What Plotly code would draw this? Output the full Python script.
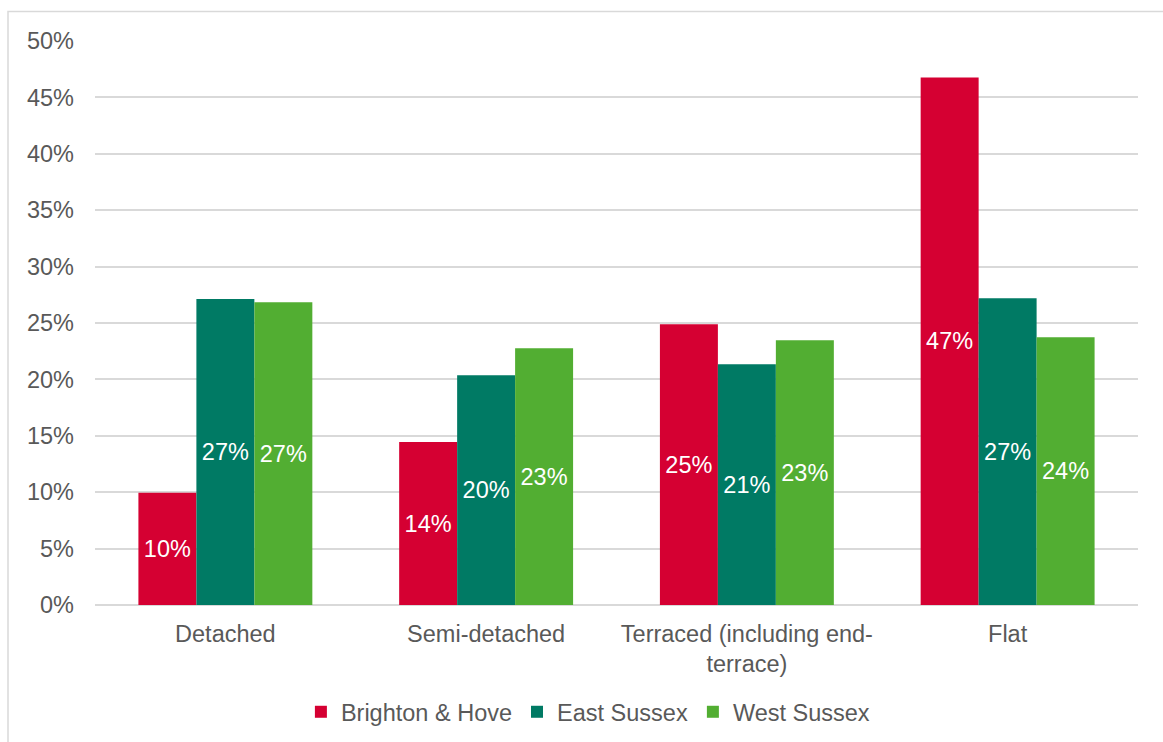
import plotly.graph_objects as go

categories = ["Detached", "Semi-detached", "Terraced (including end-<br>terrace)", "Flat"]
series_names = ["Brighton & Hove", "East Sussex", "West Sussex"]
brighton = [9.95, 14.44, 24.88, 46.77]
east_sussex = [27.13, 20.37, 21.34, 27.20]
west_sussex = [26.84, 22.76, 23.46, 23.73]
colors = ["#D50032", "#007A64", "#52AE32"]
y_ticks = [0, 5, 10, 15, 20, 25, 30, 35, 40, 45, 50]
y_tick_labels = [f"{v}%" for v in y_ticks]

FONT = "Liberation Sans, Arial, sans-serif"
FS = 23.5
GREY = "#595959"

fig = go.Figure()
for name, vals, col in zip(series_names, [brighton, east_sussex, west_sussex], colors):
    fig.add_trace(go.Bar(
        name=name,
        x=categories,
        y=vals,
        marker=dict(color=col, line=dict(width=0)),
        text=[f"{round(v):d}%" for v in vals],
        textposition="inside",
        insidetextanchor="middle",
        textangle=0,
        textfont=dict(family=FONT, size=FS, color="white"),
        hoverinfo="skip",
    ))

fig.update_layout(
    width=1163, height=742,
    barmode="group",
    bargap=0.333,
    bargroupgap=0,
    paper_bgcolor="white",
    plot_bgcolor="white",
    margin=dict(l=95, r=25, t=40.5, b=137, autoexpand=False),
    font=dict(family=FONT, size=FS, color=GREY),
    uniformtext=dict(mode=False),
    showlegend=True,
    legend=dict(
        orientation="h",
        x=0.5055, xanchor="center", xref="container",
        y=30 / 742, yanchor="middle", yref="container",
        font=dict(family=FONT, size=FS, color=GREY),
        itemwidth=30,
        tracegroupgap=0,
        bgcolor="rgba(0,0,0,0)",
    ),
    xaxis=dict(
        showgrid=False,
        showline=False,
        ticks="",
        ticklabelstandoff=12,
        tickfont=dict(family=FONT, size=FS, color=GREY),
    ),
    yaxis=dict(
        range=[0, 50],
        tickvals=y_ticks,
        ticktext=y_tick_labels,
        showgrid=True,
        gridcolor="#D9D9D9",
        gridwidth=1.5,
        zeroline=True,
        zerolinecolor="#D9D9D9",
        zerolinewidth=1.5,
        showline=False,
        ticks="",
        ticklabelstandoff=20,
        tickfont=dict(family=FONT, size=FS, color=GREY),
    ),
    shapes=[dict(
        type="rect", xref="paper", yref="paper",
        x0=(8 - 95) / 1043, x1=1.2,
        y0=-0.5, y1=(605 - 11) / 564.5,
        line=dict(color="#D9D9D9", width=1.5),
        fillcolor="rgba(0,0,0,0)",
        layer="below",
    )],
)

fig.write_html("out.html")
